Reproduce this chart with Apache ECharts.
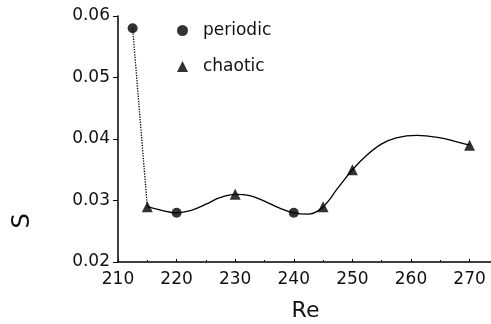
<!DOCTYPE html>
<html><head><meta charset="utf-8">
<script src="https://cdn.jsdelivr.net/npm/echarts@6/dist/echarts.min.js"></script>
<style>html,body{margin:0;padding:0;background:#fff}#c{width:491px;height:324px}</style>
</head><body><div id="c"></div>
<script>
// Data
const periodic = [[212.5, 0.058], [220, 0.028], [240, 0.028]];
const chaotic = [[215, 0.029], [230, 0.031], [245, 0.029], [250, 0.035], [270, 0.039]];
const jumpLine = [[212.5, 0.058], [215, 0.029]];
const fitCurve = [[215, 0.029], [217.5, 0.0284], [220, 0.028], [222.5, 0.0284], [225, 0.0294],
  [227.5, 0.0305], [230, 0.031], [232.5, 0.0308], [235, 0.0299], [237.5, 0.0288], [240, 0.028],
  [242.5, 0.0278], [245, 0.029], [247.5, 0.032], [250, 0.035], [252.5, 0.0374], [255, 0.0392],
  [257.5, 0.0402], [261, 0.0406], [265, 0.0402], [267.5, 0.0396], [270, 0.039]];
const xTicks = {min: 210, max: 274, interval: 10};
const yTicks = {min: 0.02, max: 0.06, interval: 0.01};

const FONT = 'DejaVu Sans';
const chart = echarts.init(document.getElementById('c'));
chart.setOption({
  animation: false,
  backgroundColor: '#fff',
  grid: {left: 118, top: 16, width: 375, height: 246, outerBoundsMode: 'none', containLabel: false},
  legend: {
    orient: 'vertical', left: 172, top: 17, itemGap: 19,
    itemWidth: 11, itemHeight: 11,
    textStyle: {fontFamily: FONT, fontSize: 17, color: '#111', padding: [0, 0, 6, 10]},
    data: ['periodic', 'chaotic']
  },
  xAxis: {
    type: 'value', min: xTicks.min, max: xTicks.max, interval: xTicks.interval,
    name: 'Re', nameLocation: 'middle', nameGap: 38,
    nameTextStyle: {fontFamily: FONT, fontSize: 22, color: '#111'},
    axisLine: {lineStyle: {color: '#000', width: 1.5}},
    axisTick: {inside: true, length: 3, lineStyle: {color: '#000'}},
    minorTick: {show: true, splitNumber: 2, length: 2, lineStyle: {color: '#000'}},
    splitLine: {show: false},
    axisLabel: {fontFamily: FONT, fontSize: 17, color: '#111', margin: 9, showMaxLabel: false,
      formatter: v => (v % 10 === 0 ? String(v) : '')}
  },
  yAxis: {
    type: 'value', min: yTicks.min, max: yTicks.max, interval: yTicks.interval,
    axisLine: {show: true, lineStyle: {color: '#000', width: 1.5}},
    axisTick: {show: true, inside: false, length: 5, lineStyle: {color: '#000'}},
    splitLine: {show: false},
    axisLabel: {fontFamily: FONT, fontSize: 17, color: '#111', margin: 8,
      formatter: v => v.toFixed(2)}
  },
  graphic: [{
    type: 'text', x: 23, y: 221, rotation: Math.PI / 2,
    style: {text: 'S', font: '24px ' + FONT, fill: '#111', align: 'center', verticalAlign: 'middle'}
  }],
  series: [
    {type: 'line', data: jumpLine, symbol: 'none', silent: true,
      lineStyle: {color: '#000', width: 1.3, type: 'dotted'}},
    {type: 'line', data: fitCurve, symbol: 'none', smooth: 0.4, silent: true,
      lineStyle: {color: '#000', width: 1.3}},
    {name: 'periodic', type: 'scatter', data: periodic, symbol: 'circle', symbolSize: 10,
      itemStyle: {color: '#000'}, z: 5},
    {name: 'chaotic', type: 'scatter', data: chaotic, symbol: 'triangle', symbolSize: 11,
      itemStyle: {color: '#000'}, z: 5}
  ]
});
</script></body></html>
